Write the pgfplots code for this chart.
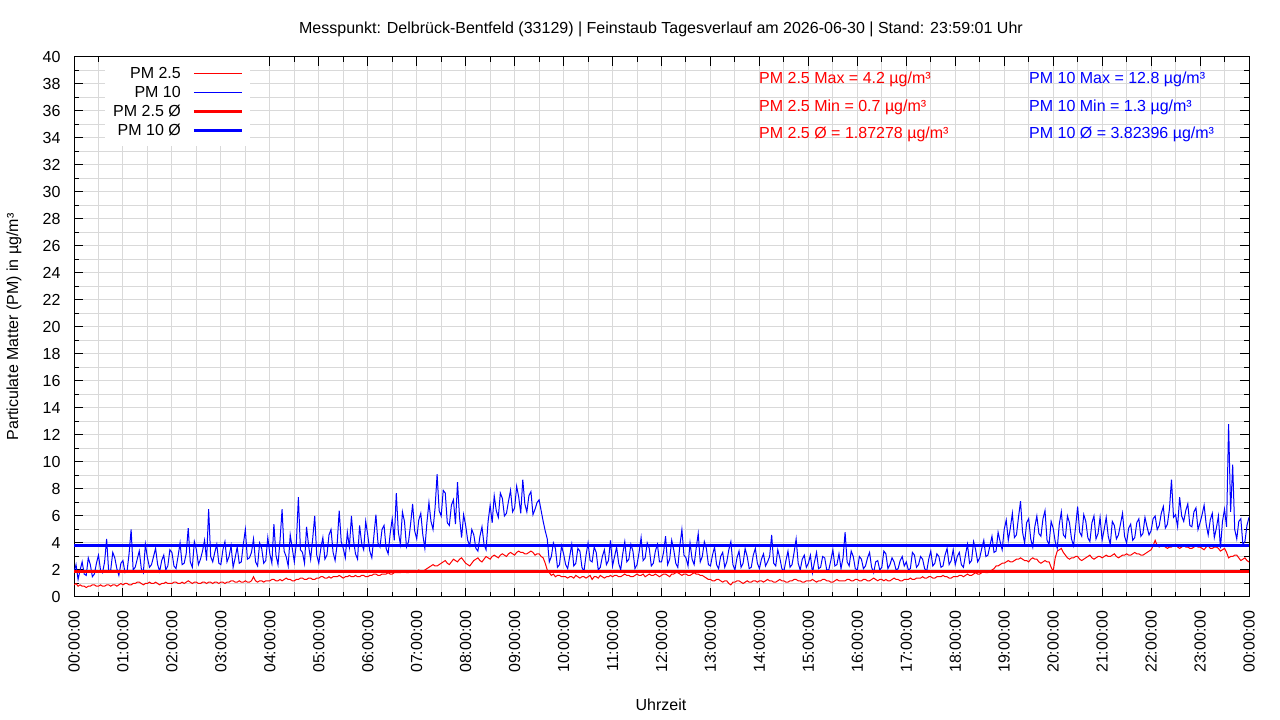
\documentclass[border=0pt]{standalone}
\usepackage{fontspec}
\setmainfont{Liberation Sans}
\usepackage{pgfplots}
\usepackage{pgfplotstable}
\pgfplotsset{compat=1.18}
\pgfplotstableread{
t pm25 pm10
0 0.9 1.8
2.5 1.0 2.4
5 0.8 1.3
7.5 0.9 2.0
10 0.8 2.6
12.5 0.8 1.7
15 0.7 1.6
17.5 0.8 2.9
20 0.8 2.4
22.5 0.9 1.5
25 0.9 1.7
27.5 0.8 2.5
30 0.8 3.1
32.5 0.9 2.0
35 0.8 1.8
37.5 0.8 2.6
40 0.9 4.3
42.5 0.9 1.9
45 0.8 2.0
47.5 0.9 3.3
50 0.9 2.9
52.5 0.8 2.1
55 0.9 1.6
57.5 1.0 2.5
60 0.9 2.7
62.5 1.0 1.8
65 1.0 1.9
67.5 0.9 3.2
70 0.9 5.0
72.5 1.0 2.0
75 1.0 2.2
77.5 1.1 2.8
80 1.1 3.4
82.5 1.0 2.1
85 0.9 1.8
87.5 1.0 3.9
90 1.0 2.9
92.5 1.1 2.2
95 1.0 2.4
97.5 1.0 3.0
100 1.1 3.6
102.5 1.0 2.4
105 0.9 1.9
107.5 1.0 2.7
110 1.0 3.1
112.5 1.1 2.0
115 1.0 2.3
117.5 1.0 3.5
120 1.0 3.3
122.5 1.1 2.3
125 1.1 2.1
127.5 1.0 3.0
130 1.0 4.0
132.5 1.1 2.4
135 1.0 2.5
137.5 1.1 3.2
140 1.2 5.1
142.5 1.1 2.6
145 1.0 2.2
147.5 1.1 4.1
150 1.1 3.5
152.5 1.0 2.4
155 1.0 2.8
157.5 1.1 3.4
160 1.1 4.2
162.5 1.0 2.7
165 1.1 6.5
167.5 1.1 3.0
170 1.0 2.6
172.5 1.1 3.3
175 1.1 3.9
177.5 1.0 2.5
180 1.1 2.4
182.5 1.1 3.5
185 1.0 4.1
187.5 1.1 2.6
190 1.1 3.0
192.5 1.2 3.8
195 1.2 2.2
197.5 1.1 2.9
200 1.1 3.7
202.5 1.2 2.5
205 1.1 2.6
207.5 1.1 3.9
210 1.2 5.0
212.5 1.1 2.8
215 1.1 2.9
217.5 1.2 3.3
220 1.5 4.3
222.5 1.2 2.6
225 1.1 2.3
227.5 1.2 4.0
230 1.2 3.6
232.5 1.1 2.5
235 1.2 2.7
237.5 1.2 4.4
240 1.2 3.2
242.5 1.3 2.5
245 1.3 5.4
247.5 1.2 3.1
250 1.2 2.4
252.5 1.3 4.2
255 1.2 6.5
257.5 1.3 3.4
260 1.4 3.0
262.5 1.3 2.3
265 1.3 4.6
267.5 1.2 3.6
270 1.2 2.6
272.5 1.3 4.0
275 1.3 7.4
277.5 1.4 3.5
280 1.4 3.3
282.5 1.3 2.5
285 1.3 5.2
287.5 1.4 3.8
290 1.4 2.8
292.5 1.3 4.3
295 1.3 6.0
297.5 1.4 3.1
300 1.4 2.5
302.5 1.5 3.6
305 1.5 4.4
307.5 1.4 2.8
310 1.4 3.1
312.5 1.5 4.6
315 1.4 5.0
317.5 1.5 3.3
320 1.5 2.7
322.5 1.5 3.9
325 1.6 6.4
327.5 1.5 4.1
330 1.4 3.6
332.5 1.5 2.9
335 1.5 4.8
337.5 1.6 3.7
340 1.5 6.0
342.5 1.5 4.2
345 1.6 3.2
347.5 1.5 2.8
350 1.5 5.3
352.5 1.6 4.0
355 1.6 3.5
357.5 1.5 5.6
360 1.5 4.6
362.5 1.6 3.4
365 1.6 2.9
367.5 1.7 4.5
370 1.7 6.1
372.5 1.6 4.0
375 1.6 3.7
377.5 1.7 5.0
380 1.7 5.3
382.5 1.7 3.6
385 1.8 3.2
387.5 1.7 4.7
390 1.7 5.8
392.5 1.8 4.2
395 1.8 7.7
397.5 1.8 4.8
400 1.8 3.9
402.5 1.9 6.3
405 1.9 5.6
407.5 1.8 3.7
410 1.8 4.1
412.5 1.9 5.4
415 1.9 6.9
417.5 1.9 4.9
420 1.9 4.3
422.5 2.0 5.7
425 1.9 6.2
427.5 1.9 4.6
430 2.0 3.6
432.5 2.1 5.5
435 2.2 7.0
437.5 2.3 5.6
440 2.4 5.0
442.5 2.3 6.6
445 2.3 9.1
447.5 2.4 6.4
450 2.5 6.0
452.5 2.6 7.9
455 2.7 7.7
457.5 2.5 5.5
460 2.4 5.3
462.5 2.6 6.8
465 2.8 7.2
467.5 2.7 5.4
470 2.6 8.5
472.5 2.8 5.9
475 2.9 4.4
477.5 2.7 6.1
480 2.5 5.3
482.5 2.4 4.2
485 2.3 3.8
487.5 2.5 5.0
490 2.7 4.6
492.5 2.8 3.6
495 2.9 3.4
497.5 2.7 4.5
500 2.6 5.2
502.5 2.8 3.9
505 3.0 3.5
507.5 2.9 5.6
510 2.8 6.8
512.5 3.0 5.5
515 3.1 7.5
517.5 3.0 6.4
520 2.9 5.9
522.5 3.1 7.7
525 3.2 7.3
527.5 3.1 6.0
530 3.0 6.2
532.5 3.2 7.1
535 3.3 7.9
537.5 3.2 6.3
540 3.1 6.6
542.5 3.3 8.2
545 3.4 7.4
547.5 3.3 6.2
550 3.3 8.7
552.5 3.2 6.9
555 3.2 6.3
557.5 3.3 7.5
560 3.4 7.8
562.5 3.3 6.1
565 3.1 6.5
567.5 3.2 7.0
570 3.2 7.2
572.5 3.0 6.4
575 2.9 5.6
577.5 2.5 4.9
580 2.0 4.3
582.5 1.8 2.6
585 1.6 3.0
587.5 1.7 4.0
590 1.5 3.6
592.5 1.6 2.2
595 1.6 2.4
597.5 1.5 3.8
600 1.5 3.2
602.5 1.5 2.4
605 1.4 2.1
607.5 1.5 3.0
610 1.5 3.9
612.5 1.4 2.3
615 1.6 2.5
617.5 1.5 3.6
620 1.4 3.4
622.5 1.5 2.2
625 1.5 1.9
627.5 1.4 3.1
630 1.5 4.0
632.5 1.6 2.7
635 1.3 2.6
637.5 1.5 3.7
640 1.5 3.3
642.5 1.4 2.0
645 1.6 2.2
647.5 1.5 3.0
650 1.4 3.5
652.5 1.5 2.4
655 1.5 2.7
657.5 1.6 4.2
660 1.5 2.3
662.5 1.6 3.0
665 1.6 3.7
667.5 1.5 2.5
670 1.5 2.0
672.5 1.6 3.2
675 1.7 4.1
677.5 1.6 2.6
680 1.6 2.8
682.5 1.5 3.9
685 1.5 3.4
687.5 1.6 2.1
690 1.7 2.4
692.5 1.6 3.3
695 1.6 4.4
697.5 1.7 2.7
700 1.5 2.9
702.5 1.6 4.0
705 1.7 3.6
707.5 1.6 2.3
710 1.6 2.5
712.5 1.7 3.4
715 1.6 3.9
717.5 1.5 2.6
720 1.6 2.6
722.5 1.7 3.3
725 1.7 4.5
727.5 1.6 2.4
730 1.5 2.8
732.5 1.7 4.2
735 1.7 3.5
737.5 1.8 2.5
740 1.8 2.2
742.5 1.7 3.8
745 1.6 5.0
747.5 1.7 3.1
750 1.7 2.9
752.5 1.6 2.3
755 1.6 4.0
757.5 1.7 2.8
760 1.8 2.4
762.5 1.7 3.6
765 1.7 4.7
767.5 1.6 2.6
770 1.6 3.0
772.5 1.5 4.1
775 1.4 3.6
777.5 1.3 2.4
780 1.3 2.3
782.5 1.2 3.1
785 1.2 3.7
787.5 1.3 2.4
790 1.3 2.1
792.5 1.2 3.0
795 1.1 3.3
797.5 1.2 2.2
800 1.2 2.6
802.5 1.0 3.5
805 0.9 4.1
807.5 1.1 2.4
810 1.1 2.0
812.5 1.2 2.9
815 1.2 3.4
817.5 1.1 2.2
820 1.0 2.5
822.5 1.1 3.6
825 1.2 3.0
827.5 1.1 2.1
830 1.1 2.2
832.5 1.2 3.1
835 1.2 3.6
837.5 1.1 2.5
840 1.2 2.1
842.5 1.2 2.8
845 1.1 3.2
847.5 1.2 2.3
850 1.3 2.6
852.5 1.2 3.0
855 1.2 4.6
857.5 1.1 2.5
860 1.1 2.3
862.5 1.2 3.5
865 1.3 2.9
867.5 1.2 2.1
870 1.2 1.9
872.5 1.1 2.7
875 1.1 3.4
877.5 1.2 2.2
880 1.2 2.4
882.5 1.3 3.3
885 1.3 4.3
887.5 1.2 2.5
890 1.2 2.0
892.5 1.1 2.8
895 1.1 3.1
897.5 1.2 2.2
900 1.2 2.5
902.5 1.2 3.1
905 1.3 1.8
907.5 1.2 2.6
910 1.1 3.3
912.5 1.2 2.1
915 1.2 2.2
917.5 1.3 3.0
920 1.3 2.9
922.5 1.2 2.0
925 1.2 2.0
927.5 1.1 2.7
930 1.1 3.5
932.5 1.2 2.3
935 1.3 2.4
937.5 1.2 3.2
940 1.2 2.1
942.5 1.2 2.9
945 1.2 4.8
947.5 1.3 2.6
950 1.3 2.3
952.5 1.2 3.4
955 1.2 3.0
957.5 1.3 2.1
960 1.3 2.0
962.5 1.2 3.0
965 1.2 2.8
967.5 1.3 2.1
970 1.3 2.3
972.5 1.2 2.9
975 1.2 3.3
977.5 1.3 2.2
980 1.4 1.8
982.5 1.3 2.6
985 1.2 2.7
987.5 1.3 2.0
990 1.3 2.2
992.5 1.2 3.4
995 1.3 3.2
997.5 1.2 2.1
1000 1.2 2.4
1002.5 1.3 2.9
1005 1.4 2.6
1007.5 1.3 2.0
1010 1.3 2.1
1012.5 1.2 2.7
1015 1.2 3.0
1017.5 1.3 2.3
1020 1.3 2.6
1022.5 1.3 2.0
1025 1.4 2.1
1027.5 1.3 3.3
1030 1.3 3.1
1032.5 1.4 2.2
1035 1.4 2.4
1037.5 1.4 3.0
1040 1.5 2.8
1042.5 1.4 2.1
1045 1.4 1.9
1047.5 1.5 2.8
1050 1.5 3.4
1052.5 1.4 2.3
1055 1.4 2.5
1057.5 1.5 3.2
1060 1.5 3.0
1062.5 1.5 2.2
1065 1.6 2.3
1067.5 1.5 3.1
1070 1.5 3.6
1072.5 1.4 2.4
1075 1.4 2.7
1077.5 1.5 3.5
1080 1.5 2.4
1082.5 1.5 3.0
1085 1.6 3.3
1087.5 1.6 2.4
1090 1.5 2.2
1092.5 1.6 3.1
1095 1.7 3.9
1097.5 1.6 2.5
1100 1.6 2.7
1102.5 1.7 4.1
1105 1.8 3.5
1107.5 1.7 2.6
1110 1.7 2.9
1112.5 1.8 3.6
1115 1.9 4.2
1117.5 1.8 3.0
1120 1.8 3.1
1122.5 1.9 3.8
1125 2.0 4.5
1127.5 2.1 3.3
1130 2.3 3.4
1132.5 2.3 4.8
1135 2.4 4.1
1137.5 2.5 3.5
1140 2.5 5.0
1142.5 2.6 5.7
1145 2.7 4.2
1147.5 2.6 5.1
1150 2.6 6.2
1152.5 2.7 4.4
1155 2.8 4.6
1157.5 2.8 5.9
1160 2.9 7.1
1162.5 2.8 4.8
1165 2.7 4.0
1167.5 2.7 5.5
1170 2.6 5.8
1172.5 2.8 4.3
1175 2.9 3.7
1177.5 2.8 5.2
1180 2.8 6.0
1182.5 2.6 4.7
1185 2.5 4.5
1187.5 2.6 5.8
1190 2.7 6.4
1192.5 2.6 4.2
1195 2.6 3.9
1197.5 2.2 5.6
1200 1.9 5.1
1202.5 2.9 4.1
1205 3.4 3.6
1207.5 3.5 5.4
1210 3.6 6.3
1212.5 3.3 4.6
1215 3.1 4.4
1217.5 2.9 6.0
1220 2.8 5.5
1222.5 2.9 4.3
1225 2.9 3.8
1227.5 3.0 5.2
1230 3.0 6.7
1232.5 2.8 4.8
1235 2.7 4.5
1237.5 2.8 6.1
1240 2.9 5.6
1242.5 3.0 4.4
1245 3.1 4.1
1247.5 2.9 5.5
1250 2.8 6.0
1252.5 2.9 4.3
1255 3.0 4.7
1257.5 3.0 5.9
1260 2.9 4.2
1262.5 3.0 5.0
1265 3.1 5.9
1267.5 3.0 4.5
1270 3.0 3.9
1272.5 3.1 5.6
1275 3.2 5.3
1277.5 3.0 4.3
1280 2.9 4.6
1282.5 3.0 5.4
1285 3.1 6.2
1287.5 3.1 4.5
1290 3.2 4.0
1292.5 3.1 5.1
1295 3.1 5.4
1297.5 3.2 4.2
1300 3.3 4.4
1302.5 3.2 5.5
1305 3.2 5.8
1307.5 3.1 4.5
1310 3.1 4.7
1312.5 3.2 5.9
1315 3.3 5.2
1317.5 3.4 4.6
1320 3.5 4.9
1322.5 3.8 5.8
1325 4.2 6.0
1327.5 3.8 5.0
1330 3.7 5.3
1332.5 3.8 6.2
1335 3.8 6.7
1337.5 3.7 5.1
1340 3.6 5.4
1342.5 3.7 6.5
1345 3.7 8.7
1347.5 3.8 5.9
1350 3.9 6.1
1352.5 3.7 5.2
1355 3.6 7.4
1357.5 3.7 6.0
1360 3.8 5.6
1362.5 3.7 6.4
1365 3.7 6.9
1367.5 3.6 5.3
1370 3.6 5.2
1372.5 3.7 6.3
1375 3.8 6.6
1377.5 3.7 5.0
1380 3.7 5.5
1382.5 3.6 6.1
1385 3.5 6.8
1387.5 3.7 5.4
1390 3.8 4.6
1392.5 3.6 5.7
1395 3.6 6.2
1397.5 3.7 4.4
1400 3.7 5.1
1402.5 3.6 6.0
1405 3.4 3.6
1407.5 3.5 5.6
1410 3.6 6.5
1412.5 3.3 5.2
1415 2.9 12.8
1417.5 3.0 6.3
1420 3.0 9.8
1422.5 3.1 5.0
1425 3.1 4.3
1427.5 2.9 5.6
1430 2.7 5.8
1432.5 2.8 3.9
1435 2.9 4.1
1437.5 2.7 5.3
1440 2.6 5.9
}\pmdata
\begin{document}
\fontsize{16}{19}\selectfont
\begin{tikzpicture}
\path[use as bounding box] (0,0) rectangle (1280pt,720pt);
\begin{axis}[
  at={(74pt,123pt)}, anchor=south west, scale only axis,
  width=1175pt, height=540pt,
  xmin=0, xmax=1440, ymin=0, ymax=40,
  xtick={0,60,...,1440}, minor xtick={30,90,...,1410},
  ytick={0,2,...,40}, minor ytick={1,3,...,39},
  xticklabels={00:00:00,01:00:00,02:00:00,03:00:00,04:00:00,05:00:00,06:00:00,07:00:00,08:00:00,09:00:00,10:00:00,11:00:00,12:00:00,13:00:00,14:00:00,15:00:00,16:00:00,17:00:00,18:00:00,19:00:00,20:00:00,21:00:00,22:00:00,23:00:00,00:00:00},
  xticklabel style={rotate=90, anchor=east},
  xticklabel shift=8pt, yticklabel shift=8pt,
  tick label style={font=\fontsize{16}{19}\selectfont},
  /pgf/number format/assume math mode=true,
  grid=both,
  major grid style={draw=black!15, line width=1pt},
  minor grid style={draw=black!15, line width=1pt},
  axis line style={line width=1pt},
  tick style={black, line width=1pt},
  major tick length=9pt, minor tick length=5pt,
  legend plot pos=right, legend cell align=right,
  legend image code/.code={\draw[#1] (0pt,0pt) -- (48pt,0pt);},
  legend style={at={(0.1498,1)}, anchor=north east, draw=none, fill=white,
    inner sep=6.5pt, column sep=10pt, font=\fontsize{16}{19}\selectfont,
    nodes={inner sep=1.5pt, text height=13.5pt, text depth=2.5pt}},
]
\addplot[color=red, line width=1pt] table[x=t, y=pm25] {\pmdata};
\addlegendentry{PM 2.5}
\addplot[color=blue, line width=1pt] table[x=t, y=pm10] {\pmdata};
\addlegendentry{PM 10}
\addplot[color=red, line width=3pt] coordinates {(0,1.87278) (1440,1.87278)};
\addlegendentry{PM 2.5 Ø}
\addplot[color=blue, line width=3pt] coordinates {(0,3.82396) (1440,3.82396)};
\addlegendentry{PM 10 Ø}
\end{axis}
\node at (661pt,691pt) {Messpunkt: Delbrück-Bentfeld (33129) | Feinstaub Tagesverlauf am 2026-06-30 | Stand: 23:59:01 Uhr};
\node[rotate=90] at (14pt,393pt) {Particulate Matter (PM) in µg/m³};
\node at (661pt,15pt) {Uhrzeit};
\node[anchor=west, inner sep=0pt, text=red] at (759pt,641pt) {PM 2.5 Max = 4.2 µg/m³};
\node[anchor=west, inner sep=0pt, text=red] at (759pt,613pt) {PM 2.5 Min = 0.7 µg/m³};
\node[anchor=west, inner sep=0pt, text=red] at (759pt,586pt) {PM 2.5 Ø = 1.87278 µg/m³};
\node[anchor=west, inner sep=0pt, text=blue] at (1029pt,641pt) {PM 10 Max = 12.8 µg/m³};
\node[anchor=west, inner sep=0pt, text=blue] at (1029pt,613pt) {PM 10 Min = 1.3 µg/m³};
\node[anchor=west, inner sep=0pt, text=blue] at (1029pt,586pt) {PM 10 Ø = 3.82396 µg/m³};
\end{tikzpicture}
\end{document}
